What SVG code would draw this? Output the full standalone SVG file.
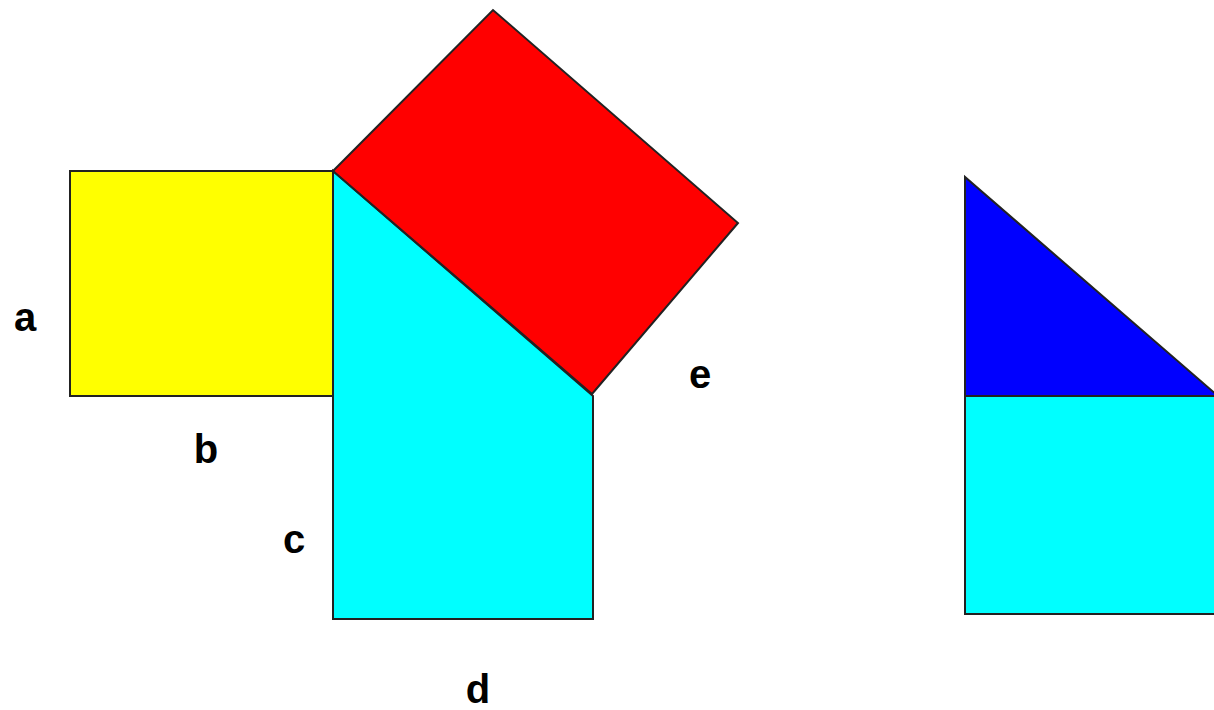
<svg xmlns="http://www.w3.org/2000/svg" width="1214" height="710" viewBox="0 0 1214 710">
<style>
.s{stroke:#222;stroke-width:2;stroke-linejoin:miter}
.t{font-family:"Liberation Sans",Arial,sans-serif;font-weight:bold;font-size:40px;fill:#000;text-anchor:middle}
</style>
<rect width="1214" height="710" fill="#fff"/>
<g id="yellow"><rect class="s" x="70" y="171" width="263" height="225" fill="#ffff00"/></g>
<g id="cyan"><polygon class="s" points="333,171 593,396 593,619 333,619" fill="#00ffff"/></g>
<g id="red"><polygon class="s" points="333,171 493,10 738,223 592,394" fill="#ff0000"/></g>
<g id="cyan2"><rect class="s" x="965" y="396" width="260" height="218" fill="#00ffff"/></g>
<g id="blue"><polygon class="s" points="965,177 965,396 1218,396" fill="#0000ff"/></g>
<g id="labels">
<text class="t" x="25" y="331">a</text>
<text class="t" x="206" y="463">b</text>
<text class="t" x="294" y="553">c</text>
<text class="t" x="478" y="703">d</text>
<text class="t" x="700" y="388">e</text>
</g>
</svg>
